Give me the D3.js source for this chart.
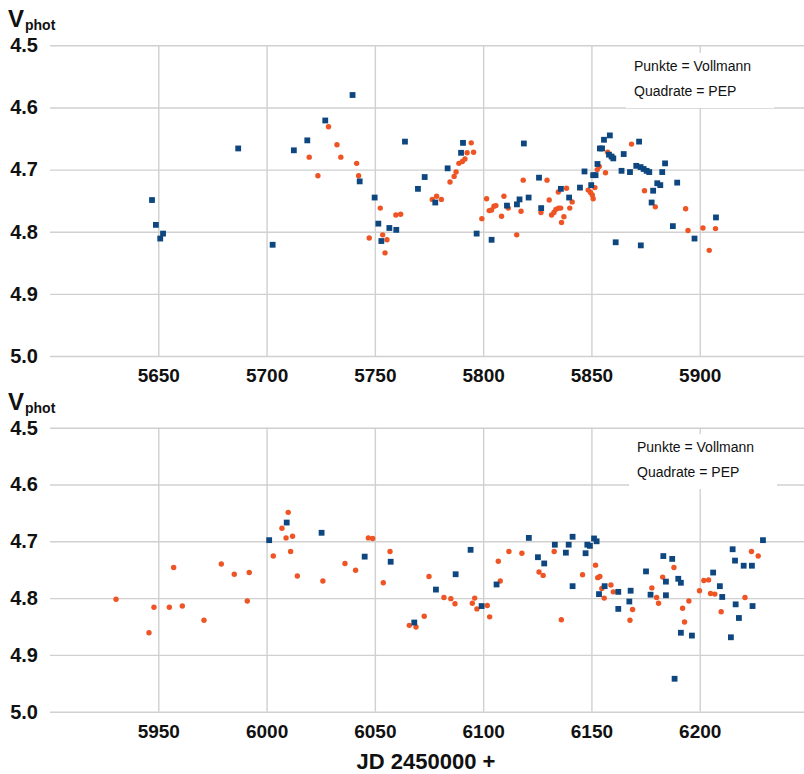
<!DOCTYPE html>
<html>
<head>
<meta charset="utf-8">
<script src="https://cdn.jsdelivr.net/npm/d3@7"></script>
<style>
body { margin: 0; background: #fff; }
svg { display: block; font-family: "Liberation Sans", Arial, sans-serif; }
</style>
</head>
<body>
<svg id="chart" width="804" height="774"></svg>
<script>

var magTicks = [4.5, 4.6, 4.7, 4.8, 4.9, 5.0]

var topTicks = [5650, 5700, 5750, 5800, 5850, 5900]

var bottomTicks = [5950, 6000, 6050, 6100, 6150, 6200]

var legendLines = ["Punkte = Vollmann", "Quadrate = PEP"]

// [JD - 2450000, V]
var topVollmann = [
    [5719.7, 4.680], [5723.7, 4.710], [5728.6, 4.631], [5732.5, 4.660], [5734.3, 4.680],
    [5741.6, 4.690], [5742.5, 4.710], [5747.4, 4.810], [5752.5, 4.762], [5753.6, 4.805],
    [5754.7, 4.834], [5755.6, 4.813], [5759.7, 4.773], [5761.9, 4.772], [5776.5, 4.748],
    [5778.5, 4.743], [5780.7, 4.748], [5784.7, 4.720], [5786.6, 4.711], [5787.5, 4.704],
    [5788.8, 4.690], [5790.4, 4.687], [5791.6, 4.683], [5792.6, 4.673], [5794.5, 4.657],
    [5795.6, 4.672], [5799.4, 4.779], [5801.6, 4.747], [5802.8, 4.766], [5803.9, 4.765],
    [5805.0, 4.759], [5805.9, 4.758], [5808.5, 4.775], [5809.6, 4.743], [5811.6, 4.762],
    [5815.5, 4.805], [5817.5, 4.767], [5818.5, 4.717], [5826.7, 4.769], [5829.5, 4.717],
    [5830.5, 4.749], [5831.6, 4.773], [5832.7, 4.769], [5833.6, 4.764], [5834.7, 4.736],
    [5834.8, 4.762], [5835.8, 4.762], [5836.2, 4.785], [5837.3, 4.776], [5838.5, 4.730],
    [5840.0, 4.762], [5841.1, 4.752], [5848.5, 4.733], [5849.6, 4.737], [5850.4, 4.741],
    [5850.8, 4.747], [5851.6, 4.729], [5852.7, 4.700], [5853.6, 4.695], [5856.5, 4.705],
    [5857.5, 4.672], [5868.5, 4.659], [5874.5, 4.734], [5879.5, 4.760], [5893.5, 4.763],
    [5894.6, 4.798], [5901.5, 4.794], [5904.4, 4.830], [5907.3, 4.795]
]

var topPEP = [
    [5647.1, 4.749], [5648.9, 4.789], [5650.9, 4.811], [5652.2, 4.803], [5686.9, 4.666],
    [5702.8, 4.821], [5712.6, 4.669], [5718.8, 4.653], [5727.1, 4.621], [5739.7, 4.580],
    [5743.0, 4.719], [5749.9, 4.745], [5751.6, 4.787], [5753.0, 4.815], [5756.7, 4.794],
    [5759.9, 4.797], [5763.9, 4.655], [5769.9, 4.731], [5773.0, 4.712], [5777.9, 4.753],
    [5783.6, 4.698], [5789.8, 4.673], [5790.7, 4.657], [5797.0, 4.803], [5803.9, 4.813],
    [5811.0, 4.758], [5815.6, 4.756], [5816.8, 4.748], [5818.8, 4.658], [5821.0, 4.745],
    [5825.8, 4.713], [5826.8, 4.762], [5835.9, 4.731], [5839.7, 4.745], [5844.7, 4.729],
    [5846.8, 4.703], [5849.9, 4.725], [5850.8, 4.709], [5851.9, 4.709], [5852.8, 4.691],
    [5853.9, 4.666], [5854.9, 4.666], [5855.8, 4.652], [5858.5, 4.645], [5858.1, 4.676],
    [5859.3, 4.679], [5860.1, 4.682], [5861.2, 4.817], [5863.9, 4.702], [5864.9, 4.675],
    [5867.8, 4.704], [5870.7, 4.694], [5872.0, 4.655], [5872.7, 4.696], [5874.1, 4.699],
    [5875.5, 4.702], [5876.7, 4.704], [5872.8, 4.822], [5877.8, 4.753], [5878.5, 4.734],
    [5880.4, 4.722], [5881.8, 4.725], [5882.7, 4.704], [5884.0, 4.690], [5887.6, 4.791],
    [5889.6, 4.721], [5897.6, 4.811], [5907.5, 4.777]
]

var bottomVollmann = [
    [5930.5, 4.802], [5945.7, 4.861], [5948.0, 4.816], [5955.1, 4.816], [5957.1, 4.746],
    [5961.1, 4.814], [5971.1, 4.839], [5979.1, 4.740], [5985.1, 4.758], [5991.1, 4.805],
    [5992.0, 4.755], [6003.1, 4.726], [6007.1, 4.677], [6009.0, 4.694], [6010.0, 4.649],
    [6011.1, 4.718], [6012.0, 4.691], [6014.2, 4.761], [6026.0, 4.770], [6036.2, 4.739],
    [6041.1, 4.751], [6047.0, 4.694], [6049.0, 4.695], [6053.9, 4.773], [6057.0, 4.718],
    [6065.9, 4.848], [6069.0, 4.851], [6072.8, 4.832], [6075.0, 4.762], [6081.9, 4.799],
    [6085.1, 4.801], [6087.0, 4.810], [6095.0, 4.809], [6096.1, 4.800], [6097.1, 4.819],
    [6101.9, 4.813], [6103.0, 4.833], [6107.0, 4.735], [6107.9, 4.770], [6111.9, 4.718],
    [6117.9, 4.721], [6125.8, 4.754], [6127.7, 4.760], [6132.8, 4.718], [6136.1, 4.838],
    [6145.9, 4.759], [6151.9, 4.742], [6152.9, 4.764], [6153.9, 4.762], [6154.8, 4.783],
    [6155.9, 4.800], [6159.0, 4.777], [6160.1, 4.789], [6167.8, 4.839], [6169.0, 4.820],
    [6177.9, 4.782], [6180.1, 4.799], [6181.0, 4.809], [6182.9, 4.763], [6188.1, 4.746],
    [6192.1, 4.818], [6193.0, 4.842], [6195.0, 4.805], [6199.9, 4.787], [6201.9, 4.769],
    [6204.1, 4.768], [6205.0, 4.792], [6207.0, 4.793], [6209.9, 4.824], [6220.9, 4.799],
    [6223.9, 4.718], [6227.0, 4.726]
]

var bottomPEP = [
    [6001.2, 4.698], [6009.3, 4.667], [6025.4, 4.685], [6045.3, 4.727], [6057.3, 4.736],
    [6068.2, 4.843], [6078.2, 4.785], [6087.3, 4.758], [6094.2, 4.715], [6099.3, 4.814],
    [6106.2, 4.776], [6121.1, 4.694], [6125.3, 4.728], [6128.2, 4.739], [6133.1, 4.706],
    [6138.2, 4.720], [6139.5, 4.706], [6141.3, 4.692], [6141.3, 4.779], [6147.3, 4.721],
    [6148.1, 4.706], [6149.3, 4.708], [6151.2, 4.695], [6152.4, 4.700], [6153.5, 4.793],
    [6156.1, 4.779], [6162.4, 4.789], [6162.4, 4.819], [6167.5, 4.806], [6168.1, 4.787],
    [6175.2, 4.753], [6177.3, 4.794], [6183.2, 4.726], [6184.4, 4.771], [6184.4, 4.795],
    [6187.3, 4.731], [6188.4, 4.942], [6190.1, 4.766], [6191.3, 4.773], [6191.3, 4.861],
    [6196.4, 4.866], [6206.2, 4.755], [6209.3, 4.779], [6210.4, 4.798], [6214.4, 4.869],
    [6215.2, 4.714], [6216.3, 4.734], [6216.6, 4.811], [6218.1, 4.835], [6220.3, 4.743],
    [6224.1, 4.743], [6224.4, 4.814], [6229.2, 4.698]
]

var svg = d3.select("#chart")

var orange = "#ee5424"
var blue = "#0e477f"
var gridColor = "#d0d0d0"

function drawPanel(top, bottom, xStart, ticks, vollmann, pep, legendX, legendY) {

    var x = d3.scaleLinear()
                .domain([xStart, xStart + 350])
                .range([50, 808])

    var y = d3.scaleLinear()
                .domain([4.5, 5.0])
                .range([top, bottom])

    var g = svg.append("g")

    var yAxis = g.append("g")
                .attr("transform", "translate(50,0)")
                .call(d3.axisLeft(y)
                    .tickValues(magTicks)
                    .tickFormat(d3.format(".1f"))
                    .tickSize(-760)
                    .tickPadding(12))

    var xAxis = g.append("g")
                .attr("transform", "translate(0," + bottom + ")")
                .call(d3.axisBottom(x)
                    .tickValues(ticks)
                    .tickFormat(d3.format("d"))
                    .tickSize(-(bottom - top))
                    .tickPadding(13))

    g.selectAll(".domain").remove()

    g.selectAll(".tick line")
        .attr("stroke", gridColor)
        .attr("stroke-width", 1.4)

    yAxis.selectAll("text")
        .attr("font-size", "20px")
        .attr("font-weight", "bold")
        .attr("fill", "#111")

    xAxis.selectAll("text")
        .attr("font-size", "19px")
        .attr("font-weight", "bold")
        .attr("fill", "#111")

    g.selectAll("text").attr("font-family", "'Liberation Sans', Arial, sans-serif")

    // V_phot label over the axis
    var vl = g.append("text")
                .attr("x", 8)
                .attr("y", top - 18)
                .attr("font-weight", "bold")
                .attr("fill", "#111")

    vl.append("tspan")
        .attr("font-size", "24px")
        .text("V")

    vl.append("tspan")
        .attr("font-size", "14px")
        .attr("dx", 1)
        .attr("dy", 3)
        .text("phot")

    g.append("rect")
        .attr("x", legendX - 8)
        .attr("y", legendY - 18)
        .attr("width", 148)
        .attr("height", 55)
        .attr("fill", "#fff")

    g.selectAll(".legend")
        .data(legendLines)
        .enter()
        .append("text")
        .attr("class", "legend")
        .attr("x", legendX)
        .attr("y", function(d, i) { return legendY + i * 25; })
        .attr("font-size", "14px")
        .attr("fill", "#111")
        .text(function(d) { return d; })

    g.selectAll(".vollmann")
        .data(vollmann)
        .enter()
        .append("circle")
        .attr("class", "vollmann")
        .attr("cx", function(d) { return x(d[0]); })
        .attr("cy", function(d) { return y(d[1]); })
        .attr("r", 2.7)
        .attr("fill", orange)

    g.selectAll(".pep")
        .data(pep)
        .enter()
        .append("rect")
        .attr("class", "pep")
        .attr("x", function(d) { return x(d[0]) - 2.9; })
        .attr("y", function(d) { return y(d[1]) - 2.9; })
        .attr("width", 5.8)
        .attr("height", 5.8)
        .attr("fill", blue)
}

drawPanel(45.3, 356, 5600, topTicks, topVollmann, topPEP, 634, 71)

drawPanel(427.7, 711.7, 5900, bottomTicks, bottomVollmann, bottomPEP, 637, 452)

svg.append("text")
    .attr("x", 426)
    .attr("y", 769)
    .attr("text-anchor", "middle")
    .attr("font-size", "22px")
    .attr("font-weight", "bold")
    .attr("fill", "#111")
    .text("JD 2450000 +")

</script>
</body>
</html>
